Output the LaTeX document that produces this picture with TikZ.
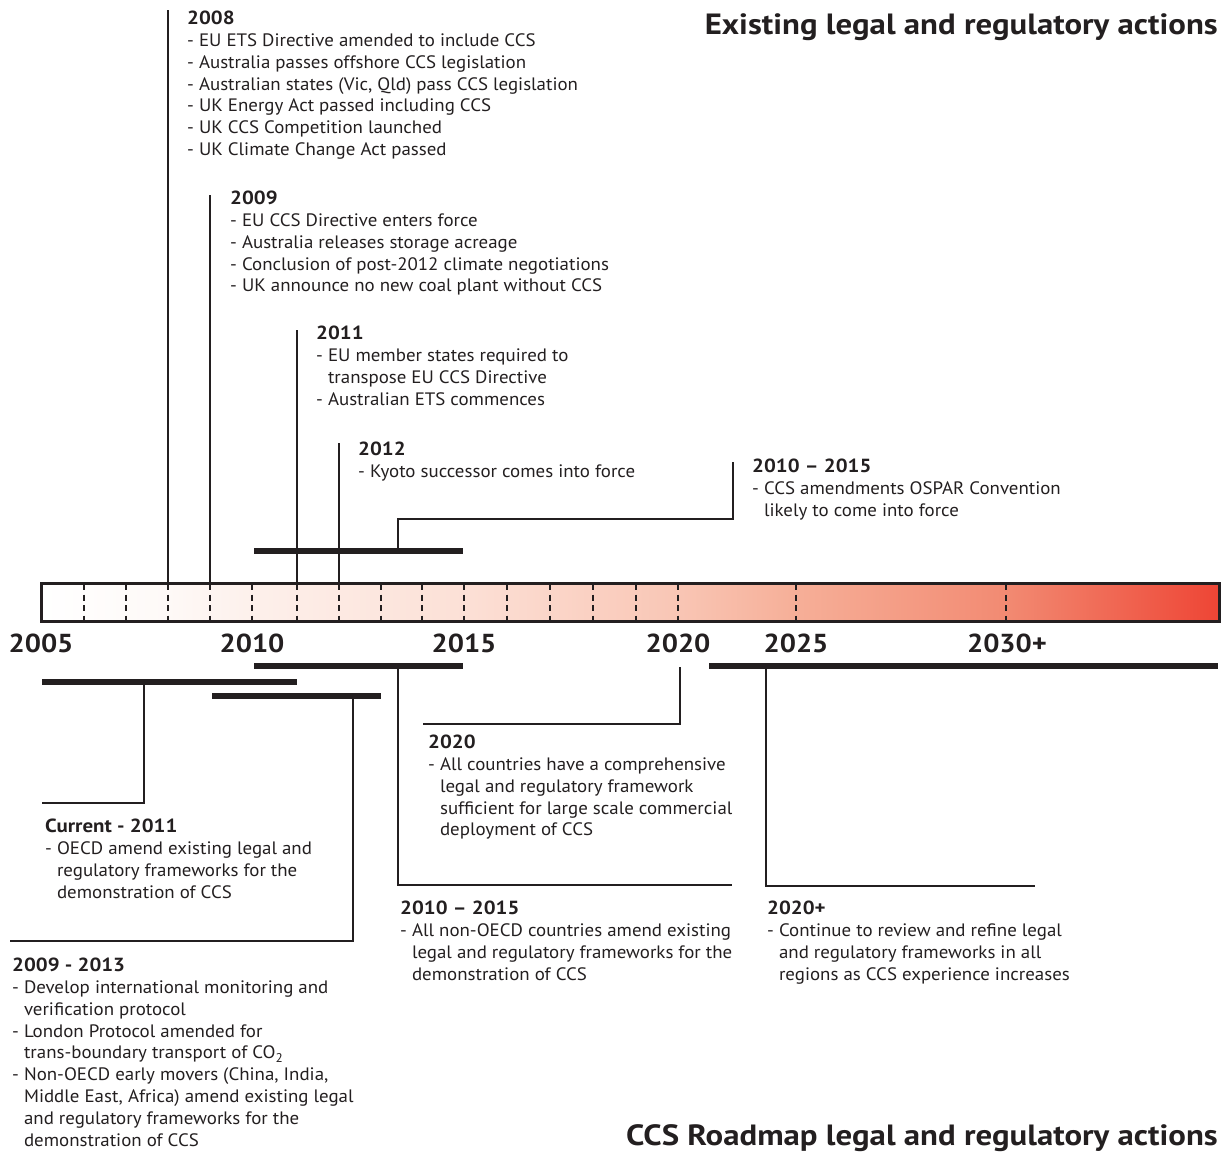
\documentclass[tikz,border=0pt]{standalone}
\usepackage{fontspec}
\setmainfont{PT Sans}[FakeStretch=1.05]
\newfontfamily\headfont{PT Sans}[FakeStretch=1.12]
\newfontfamily\yearfont{PT Sans}[FakeStretch=1.1]
\newfontfamily\hdfont{PT Sans}[FakeStretch=1.1, Ligatures=TeX]
\definecolor{ink}{HTML}{231F20}
\definecolor{sa}{HTML}{FEF9F7}
\definecolor{sb}{HTML}{FDF0EB}
\definecolor{sc}{HTML}{FCE0D6}
\definecolor{sd}{HTML}{F9C6B5}
\definecolor{se}{HTML}{F6AF98}
\definecolor{sf}{HTML}{F28A72}
\definecolor{sg}{HTML}{EE4535}
\pgfdeclarehorizontalshading{barshade}{100bp}{color(0bp)=(white); color(25bp)=(white); color(30.4bp)=(sa); color(34bp)=(sb); color(43bp)=(sc); color(52bp)=(sd); color(57bp)=(se); color(66bp)=(sf); color(75bp)=(sg); color(100bp)=(sg)}
\newcommand\ind{\phantom{-}\ }
\newcommand\hd[1]{{\hdfont\fontsize{19}{21.8}\selectfont\bfseries #1}}
\tikzset{
  txt/.style={anchor=north west, inner sep=0pt, align=left, font=\fontsize{18}{21.8}\selectfont, text=ink},
  yr/.style={anchor=base, inner sep=0pt, font=\yearfont\fontsize{26}{26}\selectfont\bfseries, text=ink},
  ttl/.style={anchor=base east, inner sep=0pt, font=\headfont\fontsize{29.3}{30}\selectfont\bfseries, text=ink},
  conn/.style={draw=ink, line width=2.8pt},
  heavy/.style={draw=ink, line width=6pt},
  tickline/.style={draw=ink, line width=2.2pt, dash pattern=on 6pt off 4.5pt},
}
\begin{document}
\begin{tikzpicture}[x=1pt,y=-1pt]
\useasboundingbox (0,0) rectangle (1223,1151);
% timeline bar
\path[shading=barshade] (41,583) rectangle (1219,621);
\foreach \x in {84,126,168,210,252,297,339,381,422,464,507,550,593,636,678,796,1006}
  \draw[tickline] (\x,584) -- (\x,621);
\draw[draw=ink, line width=3pt] (41,583) rectangle (1219,621);
% years
\node[yr] (y2005) at (41,652) {2005};
\node[yr] (y2010) at (252,652) {2010};
\node[yr] (y2015) at (464,652) {2015};
\node[yr] (y2020) at (678,652) {2020};
\node[yr] (y2025) at (796,652) {2025};
\node[yr] (y2030) at (1007,652) {2030+};
% titles
\node[ttl] (ttop) at (1218,34) {Existing legal and regulatory actions};
\node[ttl] (tbot) at (1218,1145) {CCS Roadmap legal and regulatory actions};
% top texts
\node[txt] (b2008) at (187,11) {\hd{2008}\\
- EU ETS Directive amended to include CCS\\
- Australia passes offshore CCS legislation\\
- Australian states (Vic, Qld) pass CCS legislation\\
- UK Energy Act passed including CCS\\
- UK CCS Competition launched\\
- UK Climate Change Act passed};
\node[txt] (b2009) at (230,191) {\hd{2009}\\
- EU CCS Directive enters force\\
- Australia releases storage acreage\\
- Conclusion of post-2012 climate negotiations\\
- UK announce no new coal plant without CCS};
\node[txt] (b2011) at (316,326) {\hd{2011}\\
- EU member states required to\\
\ind transpose EU CCS Directive\\
- Australian ETS commences};
\node[txt] (b2012) at (358,442) {\hd{2012}\\
- Kyoto successor comes into force};
\node[txt] (bospar) at (752,459) {\hd{2010 – 2015}\\
- CCS amendments OSPAR Convention\\
\ind likely to come into force};
% bottom texts
\node[txt] (b2020) at (428,735) {\hd{2020}\\
- All countries have a comprehensive\\
\ind legal and regulatory framework\\
\ind sufficient for large scale commercial\\
\ind deployment of CCS};
\node[txt] (bcur) at (45,819) {\hd{Current - 2011}\\
- OECD amend existing legal and\\
\ind regulatory frameworks for the\\
\ind demonstration of CCS};
\node[txt] (bnon) at (400,901) {\hd{2010 – 2015}\\
- All non-OECD countries amend existing\\
\ind legal and regulatory frameworks for the\\
\ind demonstration of CCS};
\node[txt] (bplus) at (767,901) {\hd{2020+}\\
- Continue to review and refine legal\\
\ind and regulatory frameworks in all\\
\ind regions as CCS experience increases};
\node[txt] (bearly) at (12,958) {\hd{2009 - 2013}\\
- Develop international monitoring and\\
\ind verification protocol\\
- London Protocol amended for\\
\ind trans-boundary transport of CO\textsubscript{2}\\
- Non-OECD early movers (China, India,\\
\ind Middle East, Africa) amend existing legal\\
\ind and regulatory frameworks for the\\
\ind demonstration of CCS};
% top connectors
\coordinate (t08a) at (168,10);  \coordinate (t08b) at (168,583);
\coordinate (t09a) at (210,195); \coordinate (t09b) at (210,583);
\coordinate (t11a) at (297,330); \coordinate (t11b) at (297,583);
\coordinate (t12a) at (339,443); \coordinate (t12b) at (339,583);
\draw[conn] (t08a) -- (t08b);
\draw[conn] (t09a) -- (t09b);
\draw[conn] (t11a) -- (t11b);
\draw[conn] (t12a) -- (t12b);
\coordinate (hb1a) at (254,551); \coordinate (hb1b) at (463,551);
\draw[heavy] (hb1a) -- (hb1b);
\coordinate (os1) at (398,551); \coordinate (os2) at (398,519);
\coordinate (os3) at (733,519); \coordinate (os4) at (733,462);
\draw[conn] (os1) -- (os2) -- (os3) -- (os4);
% bottom bars
\coordinate (hA1) at (254,666); \coordinate (hA2) at (463,666);
\coordinate (hB1) at (42,682);  \coordinate (hB2) at (297,682);
\coordinate (hC1) at (212,696); \coordinate (hC2) at (381,696);
\coordinate (hD1) at (709,666); \coordinate (hD2) at (1218,666);
\draw[heavy] (hA1) -- (hA2);
\draw[heavy] (hB1) -- (hB2);
\draw[heavy] (hC1) -- (hC2);
\draw[heavy] (hD1) -- (hD2);
% bottom connectors
\coordinate (cu1) at (144,682); \coordinate (cu2) at (144,803); \coordinate (cu3) at (42,803);
\draw[conn] (cu1) -- (cu2) -- (cu3);
\coordinate (ea1) at (353,696); \coordinate (ea2) at (353,941); \coordinate (ea3) at (10,941);
\draw[conn] (ea1) -- (ea2) -- (ea3);
\coordinate (no1) at (398,666); \coordinate (no2) at (398,885); \coordinate (no3) at (732,885);
\draw[conn] (no1) -- (no2) -- (no3);
\coordinate (tw1) at (680,667); \coordinate (tw2) at (680,724); \coordinate (tw3) at (423,724);
\draw[conn] (tw1) -- (tw2) -- (tw3);
\coordinate (pl1) at (766,666); \coordinate (pl2) at (766,886); \coordinate (pl3) at (1035,886);
\draw[conn] (pl1) -- (pl2) -- (pl3);
\end{tikzpicture}
\end{document}
